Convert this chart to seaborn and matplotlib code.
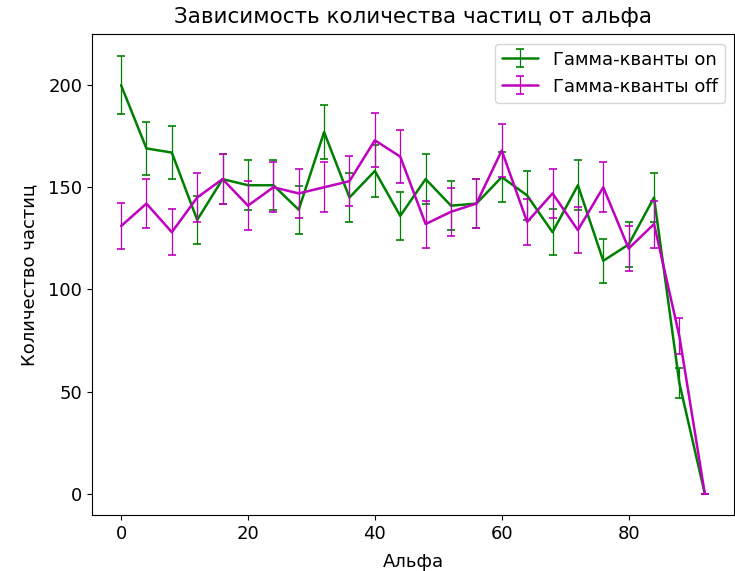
import numpy as np
import pandas as pd
import matplotlib
matplotlib.use("Agg")
import matplotlib.pyplot as plt
import seaborn as sns
from matplotlib.legend_handler import HandlerTuple

# Data
alpha = [0, 4, 8, 12, 16, 20, 24, 28, 32, 36, 40, 44,
         48, 52, 56, 60, 64, 68, 72, 76, 80, 84, 88, 92]
counts_on = [200, 169, 167, 134, 154, 151, 151, 139, 177, 145, 158, 136,
             154, 141, 142, 155, 146, 128, 151, 114, 122, 145, 54, 0]
counts_off = [131, 142, 128, 145, 154, 141, 150, 147, 150, 153, 173, 165,
              132, 138, 142, 168, 133, 147, 129, 150, 120, 132, 77, 0]
err_on = [14.1, 13.0, 12.9, 11.6, 12.4, 12.3, 12.3, 11.8, 13.3, 12.0, 12.6, 11.7,
          12.4, 11.9, 11.9, 12.4, 12.1, 11.3, 12.3, 10.7, 11.0, 12.0, 7.3, 0]
err_off = [11.4, 11.9, 11.3, 12.0, 12.4, 11.9, 12.2, 12.1, 12.2, 12.4, 13.2, 12.8,
           11.5, 11.7, 11.9, 13.0, 11.5, 12.1, 11.4, 12.2, 11.0, 11.5, 8.8, 0]

df = pd.DataFrame({
    "alpha": alpha * 2,
    "count": counts_on + counts_off,
    "err": err_on + err_off,
    "mode": ["Гамма-кванты on"] * len(alpha) + ["Гамма-кванты off"] * len(alpha),
})
colors = {"Гамма-кванты on": "g", "Гамма-кванты off": "m"}

sns.set_style("ticks", rc={
    "axes.edgecolor": "black", "text.color": "black", "axes.labelcolor": "black",
    "xtick.color": "black", "ytick.color": "black",
    "xtick.major.size": 4.2, "ytick.major.size": 4.2,
    "xtick.major.pad": 4.2, "ytick.major.pad": 4.2,
})
plt.rcParams["font.family"] = ["DejaVu Sans"]

fig, ax = plt.subplots(figsize=(7.35, 5.71), dpi=100)
fig.subplots_adjust(left=0.125, right=0.9986, top=0.9396, bottom=0.0972)

handles = []
for name, grp in df.groupby("mode", sort=False):
    sns.lineplot(data=grp, x="alpha", y="count", color=colors[name],
                 linewidth=1.8, ax=ax, legend=False, errorbar=None)
    line = ax.lines[-1]
    eb = ax.errorbar(grp["alpha"], grp["count"], yerr=grp["err"], fmt="none",
                     ecolor=colors[name], elinewidth=0.9, capsize=3, capthick=1.2)
    handles.append(((line, eb), name))

ax.legend([h for h, _ in handles], [n for _, n in handles], loc="upper right",
          fontsize=13, handler_map={tuple: HandlerTuple(ndivide=1, pad=0)})

ax.set_title("Зависимость количества частиц от альфа", fontsize=15.5, pad=8)
ax.set_xlabel("Альфа", fontsize=13, labelpad=7)
ax.set_ylabel("Количество частиц", fontsize=13, labelpad=7)
ax.tick_params(labelsize=13)
for s in ax.spines.values():
    s.set_visible(True)

fig.savefig("out.png", dpi=100)
